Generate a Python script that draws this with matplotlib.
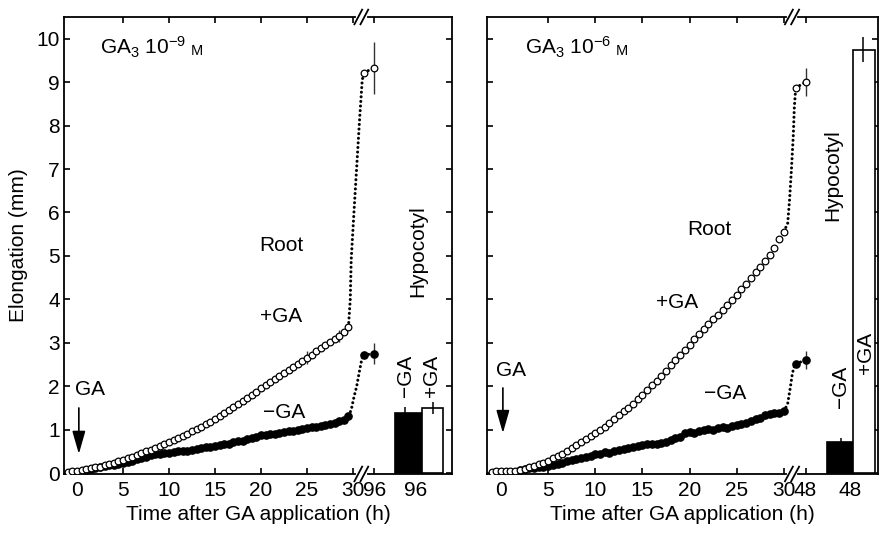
import numpy as np
import matplotlib
matplotlib.use('Agg')
import matplotlib.pyplot as plt

plt.rcParams['font.family'] = ['Liberation Sans', 'DejaVu Sans']
plt.rcParams['mathtext.fontset'] = 'custom'
plt.rcParams['mathtext.rm'] = 'Liberation Sans'
plt.rcParams['mathtext.it'] = 'Liberation Sans:italic'
plt.rcParams['font.size'] = 15

# ---- data ----
# root elongation (mm), one reading every 0.5 h
step_h = 0.5

# GA3 1e-9 M panel
left_plus_start = -1.0
left_plus = [0.03, 0.05, 0.06, 0.08, 0.09, 0.11, 0.13, 0.15, 0.18, 0.21,
             0.24, 0.27, 0.30, 0.34, 0.38, 0.42, 0.46, 0.50, 0.54, 0.58,
             0.62, 0.67, 0.72, 0.76, 0.81, 0.86, 0.91, 0.96, 1.01, 1.06,
             1.12, 1.18, 1.25, 1.31, 1.38, 1.45, 1.52, 1.59, 1.66, 1.73,
             1.80, 1.87, 1.95, 2.02, 2.10, 2.17, 2.24, 2.31, 2.38, 2.45,
             2.52, 2.59, 2.66, 2.73, 2.80, 2.87, 2.94, 3.01, 3.08, 3.16,
             3.24, 3.36]
left_minus_start = 1.0
left_minus = [0.08, 0.10, 0.12, 0.14, 0.16, 0.18, 0.19, 0.21, 0.23, 0.26,
              0.29, 0.32, 0.35, 0.38, 0.41, 0.43, 0.44, 0.46, 0.47, 0.48,
              0.50, 0.51, 0.52, 0.53, 0.55, 0.57, 0.59, 0.60, 0.62, 0.64,
              0.66, 0.68, 0.71, 0.73, 0.75, 0.78, 0.81, 0.84, 0.88, 0.87,
              0.89, 0.90, 0.92, 0.94, 0.96, 0.98, 1.00, 1.02, 1.04, 1.05,
              1.07, 1.09, 1.11, 1.13, 1.16, 1.20, 1.23, 1.32]
# fast rise after 30 h, drawn on the compressed part of the axis
left_plus_late_x = [29.5, 29.7, 29.8, 30.1, 30.4, 30.7, 31.0, 31.2, 32.3]
left_plus_late_y = [3.36, 4.0, 4.9, 6.0, 7.05, 8.1, 9.05, 9.22, 9.33]
left_minus_late_x = [29.5, 29.8, 30.1, 30.4, 30.7, 30.95, 31.2, 32.3]
left_minus_late_y = [1.32, 1.45, 1.75, 2.0, 2.35, 2.62, 2.72, 2.75]
left_plus_err_x = [25.0, 28.5, 32.3]
left_plus_err_y = [2.66, 3.16, 9.33]
left_plus_err = [0.15, 0.14, 0.60]
left_minus_err_x = [32.3]
left_minus_err_y = [2.75]
left_minus_err = [0.24]
left_hypo = [1.39, 1.49]        # -GA, +GA at 96 h
left_hypo_err = [0.14, 0.14]

# GA3 1e-6 M panel
right_plus_start = -1.0
right_plus = [0.02, 0.04, 0.05, 0.05, 0.06, 0.06, 0.08, 0.10, 0.13, 0.16,
              0.20, 0.24, 0.29, 0.34, 0.39, 0.45, 0.51, 0.57, 0.64, 0.71,
              0.78, 0.85, 0.92, 0.99, 1.07, 1.15, 1.24, 1.33, 1.42, 1.51,
              1.60, 1.70, 1.80, 1.91, 2.02, 2.13, 2.24, 2.36, 2.48, 2.60,
              2.72, 2.84, 2.96, 3.08, 3.20, 3.32, 3.43, 3.54, 3.65, 3.76,
              3.87, 3.99, 4.11, 4.23, 4.36, 4.49, 4.62, 4.75, 4.88, 5.02,
              5.18, 5.38, 5.56]
right_minus_start = 2.0
right_minus = [0.08, 0.10, 0.11, 0.12, 0.14, 0.15, 0.17, 0.19, 0.22, 0.24,
               0.27, 0.30, 0.32, 0.34, 0.38, 0.40, 0.43, 0.45, 0.48, 0.46,
               0.50, 0.53, 0.56, 0.58, 0.60, 0.63, 0.65, 0.66, 0.67, 0.66,
               0.70, 0.72, 0.76, 0.80, 0.84, 0.92, 0.95, 0.92, 0.98, 1.00,
               1.01, 0.99, 1.03, 1.06, 1.04, 1.08, 1.10, 1.12, 1.16, 1.20,
               1.25, 1.27, 1.33, 1.36, 1.38, 1.39, 1.42]
right_plus_late_x = [30.0, 30.4, 30.6, 30.8, 31.0, 31.1, 31.25, 32.3]
right_plus_late_y = [5.56, 5.75, 6.3, 7.0, 7.8, 8.4, 8.87, 9.0]
right_minus_late_x = [30.0, 30.4, 30.7, 30.9, 31.1, 31.3, 32.3]
right_minus_late_y = [1.42, 1.6, 2.0, 2.3, 2.45, 2.52, 2.6]
right_plus_err_x = [0.0, 32.3]
right_plus_err_y = [0.05, 9.0]
right_plus_err = [0.06, 0.32]
right_minus_err_x = [32.3]
right_minus_err_y = [2.6]
right_minus_err = [0.2]
right_hypo = [0.72, 9.75]       # -GA, +GA at 48 h
right_hypo_err = [0.09, 0.28]

x_ticks = [0, 5, 10, 15, 20, 25, 30]


def series_x(start, values):
    """Reading times (h) for a series taken every step_h hours."""
    return start + step_h * np.arange(len(values))


def draw_break(ax, xc):
    """Draw the // axis break on the top and bottom spines."""
    tr = ax.get_xaxis_transform()
    for yy in (0.0, 1.0):
        ax.plot([xc - 0.35, xc + 0.35], [yy, yy], color='white', lw=3,
                transform=tr, clip_on=False, zorder=5)
        for dx in (-0.33, 0.33):
            ax.plot([xc + dx - 0.42, xc + dx + 0.42], [yy - 0.016, yy + 0.016],
                    color='k', lw=1.3, transform=tr, clip_on=False, zorder=6)


def draw_panel(ax, p):
    dot_style = dict(color='k', lw=2.2, linestyle=(0, (0.01, 1.5)),
                     dash_capstyle='round', zorder=2)
    # late rise, dotted
    ax.plot(p['minus_late_x'][:-1], p['minus_late_y'][:-1], **dot_style)
    ax.plot(p['plus_late_x'][:-1], p['plus_late_y'][:-1], **dot_style)
    ax.plot(p['minus_late_x'][-2:], p['minus_late_y'][-2:], **dot_style)
    ax.plot(p['plus_late_x'][-2:], p['plus_late_y'][-2:], **dot_style)

    # error bars
    ax.errorbar(p['plus_err_x'], p['plus_err_y'], yerr=p['plus_err'], fmt='none',
                ecolor='#333333', elinewidth=1.0, capsize=0, zorder=3)
    ax.errorbar(p['minus_err_x'], p['minus_err_y'], yerr=p['minus_err'], fmt='none',
                ecolor='#333333', elinewidth=1.0, capsize=0, zorder=3)

    # -GA (filled) and +GA (open) root curves
    xm = series_x(p['minus_start'], p['minus'])
    ax.plot(xm, p['minus'], 'o', ms=5.2, color='k', mec='k', zorder=3)
    ax.plot(p['minus_late_x'][-2:], p['minus_late_y'][-2:], 'o', ms=5.2,
            color='k', zorder=4)
    xp = series_x(p['plus_start'], p['plus'])
    ax.plot(xp, p['plus'], 'o', ms=4.8, mfc='white', mec='k', mew=0.9, zorder=4)
    ax.plot(p['plus_late_x'][-2:], p['plus_late_y'][-2:], 'o', ms=4.8,
            mfc='white', mec='k', mew=0.9, zorder=4)

    # hypocotyl bars
    ax.bar(p['bar_x'], p['hypo'], width=p['bar_w'], color=['k', 'white'],
           edgecolor='k', lw=1.2, zorder=2)
    ax.errorbar(p['bar_err_x'], p['hypo'], yerr=p['hypo_err'], fmt='none',
                ecolor='k', elinewidth=1.1, capsize=0, zorder=3)

    # axes
    ax.set_xlim(p['xlim'])
    ax.set_ylim(-0.02, 10.5)
    ticks = x_ticks + [p['late_pos'], p['bar_label_x']]
    labels = [str(t) for t in x_ticks] + [p['late_label'], p['late_label']]
    ax.set_xticks(ticks, labels)
    ax.set_yticks(range(11))
    ax.tick_params(direction='in', length=4.5, width=1.2, top=True, right=True,
                   labelsize=15)
    ax.tick_params(axis='x', pad=5)
    ax.tick_params(axis='y', pad=3)
    for i in (0, len(ticks) - 1):
        tk = ax.xaxis.get_major_ticks()[i]
        tk.tick1line.set_visible(False)
        tk.tick2line.set_visible(False)
    for s in ax.spines.values():
        s.set_linewidth(1.3)
    ax.set_xlabel('Time after GA application (h)', fontsize=15, labelpad=4)
    draw_break(ax, p['break_x'])

    # annotations
    ax.text(p['title_x'], 9.63, p['title'], fontsize=15, va='baseline')
    ax.text(p['m_x'], 9.63, 'M', fontsize=10.5, va='baseline')
    ax.text(p['root_xy'][0], p['root_xy'][1], 'Root', ha='center', va='center')
    ax.text(p['plus_xy'][0], p['plus_xy'][1], '+GA', ha='center', va='center')
    ax.text(p['minus_xy'][0], p['minus_xy'][1], '\u2212GA', ha='center', va='center')
    ax.text(p['hypo_xy'][0], p['hypo_xy'][1], 'Hypocotyl', rotation=90,
            ha='center', va='center')
    ax.text(p['bm_xy'][0], p['bm_xy'][1], '\u2212GA', rotation=90,
            ha='center', va='center')
    ax.text(p['bp_xy'][0], p['bp_xy'][1], '+GA', rotation=90,
            ha='center', va='center')
    ax.text(p['ga_xy'][0], p['ga_xy'][1], 'GA', ha='center', va='center')
    ax.annotate('', xy=(p['arrow'][0], p['arrow'][2]),
                xytext=(p['arrow'][0], p['arrow'][1]),
                arrowprops=dict(arrowstyle='-|>,head_length=0.7,head_width=0.2',
                                color='k', lw=1.2, mutation_scale=20,
                                shrinkA=0, shrinkB=0))


left = dict(plus_start=left_plus_start, plus=left_plus,
            minus_start=left_minus_start, minus=left_minus,
            plus_late_x=left_plus_late_x, plus_late_y=left_plus_late_y,
            minus_late_x=left_minus_late_x, minus_late_y=left_minus_late_y,
            plus_err_x=left_plus_err_x, plus_err_y=left_plus_err_y,
            plus_err=left_plus_err, minus_err_x=left_minus_err_x,
            minus_err_y=left_minus_err_y, minus_err=left_minus_err,
            hypo=left_hypo, hypo_err=left_hypo_err,
            bar_x=[36.05, 38.65], bar_w=[2.9, 2.3], bar_err_x=[35.7, 38.7],
            xlim=(-1.41, 40.76), late_pos=32.3, bar_label_x=36.8,
            late_label='96', break_x=30.9,
            title='GA$_3$ 10$^{\u22129}$', title_x=2.5, m_x=12.4,
            root_xy=(22.2, 5.25), plus_xy=(22.2, 3.6), minus_xy=(22.5, 1.4),
            hypo_xy=(37.0, 5.1), bm_xy=(35.65, 2.23), bp_xy=(38.5, 2.23),
            ga_xy=(1.4, 1.93), arrow=(0.2, 1.5, 0.44))

right = dict(plus_start=right_plus_start, plus=right_plus,
             minus_start=right_minus_start, minus=right_minus,
             plus_late_x=right_plus_late_x, plus_late_y=right_plus_late_y,
             minus_late_x=right_minus_late_x, minus_late_y=right_minus_late_y,
             plus_err_x=right_plus_err_x, plus_err_y=right_plus_err_y,
             plus_err=right_plus_err, minus_err_x=right_minus_err_x,
             minus_err_y=right_minus_err_y, minus_err=right_minus_err,
             hypo=right_hypo, hypo_err=right_hypo_err,
             bar_x=[35.95, 38.5], bar_w=[2.76, 2.34], bar_err_x=[36.1, 38.4],
             xlim=(-1.48, 39.98), late_pos=32.3, bar_label_x=37.0,
             late_label='48', break_x=30.86,
             title='GA$_3$ 10$^{\u22126}$', title_x=2.55, m_x=12.2,
             root_xy=(22.1, 5.6), plus_xy=(18.7, 3.92), minus_xy=(23.8, 1.84),
             hypo_xy=(35.2, 6.87), bm_xy=(36.0, 1.98), bp_xy=(38.6, 2.76),
             ga_xy=(1.1, 2.37), arrow=(0.2, 1.96, 0.92))

fig = plt.figure(figsize=(8.82, 5.34), dpi=100)
ax1 = fig.add_axes([0.0726, 0.1124, 0.4399, 0.8558])
ax2 = fig.add_axes([0.5522, 0.1124, 0.4433, 0.8558])
draw_panel(ax1, left)
draw_panel(ax2, right)
ax1.set_ylabel('Elongation (mm)', fontsize=15, labelpad=6)
ax2.tick_params(axis='y', labelleft=False)

fig.savefig('out.png', dpi=100)
